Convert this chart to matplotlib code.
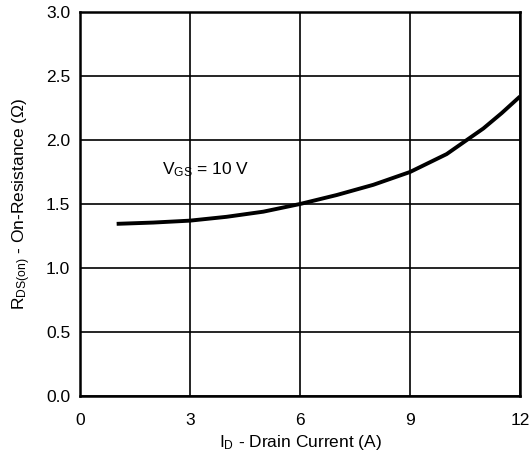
import matplotlib
matplotlib.use("Agg")
import matplotlib.pyplot as plt
import numpy as np

plt.rcParams['font.family'] = ['Liberation Sans', 'DejaVu Sans']
plt.rcParams['mathtext.fontset'] = 'custom'
plt.rcParams['mathtext.rm'] = 'Liberation Sans'
plt.rcParams['mathtext.it'] = 'Liberation Sans'

# drain current (A) vs on-resistance (ohm)
i_d = [1, 2, 3, 4, 5, 6, 7, 8, 9, 10, 10.55, 11, 11.5, 12]
r_ds = [1.345, 1.355, 1.37, 1.40, 1.44, 1.50, 1.57, 1.65, 1.75, 1.89, 2.0, 2.09, 2.21, 2.34]

x_ticks = [0, 3, 6, 9, 12]
y_ticks = [0.0, 0.5, 1.0, 1.5, 2.0, 2.5, 3.0]

fig = plt.figure(figsize=(5.32, 4.57), dpi=100)
ax = fig.add_axes([80 / 532, 61 / 457, 440 / 532, 384 / 457])

ax.plot(i_d, r_ds, color='black', lw=2.8, solid_capstyle='butt')

ax.set_xlim(0, 12)
ax.set_ylim(0, 3.0)
ax.set_xticks(x_ticks)
ax.set_yticks(y_ticks)
ax.set_yticklabels(['%.1f' % v for v in y_ticks])
ax.grid(True, color='black', lw=1.2)
ax.tick_params(axis='y', length=0, labelsize=12.5, pad=7)
ax.tick_params(axis='x', length=0, labelsize=12.5, pad=12)
for s in ax.spines.values():
    s.set_linewidth(1.8)

ax.set_xlabel(r'I$_\mathregular{D}$ - Drain Current (A)', fontsize=12.5, labelpad=4)
ax.set_ylabel(r'R$_\mathregular{DS(on)}$ - On-Resistance ($\Omega$)', fontsize=12.5, labelpad=9)
ax.text(2.25, 1.77, r'V$_\mathregular{GS}$ = 10 V', fontsize=12.5, va='center')

fig.savefig('out.png', dpi=100)
